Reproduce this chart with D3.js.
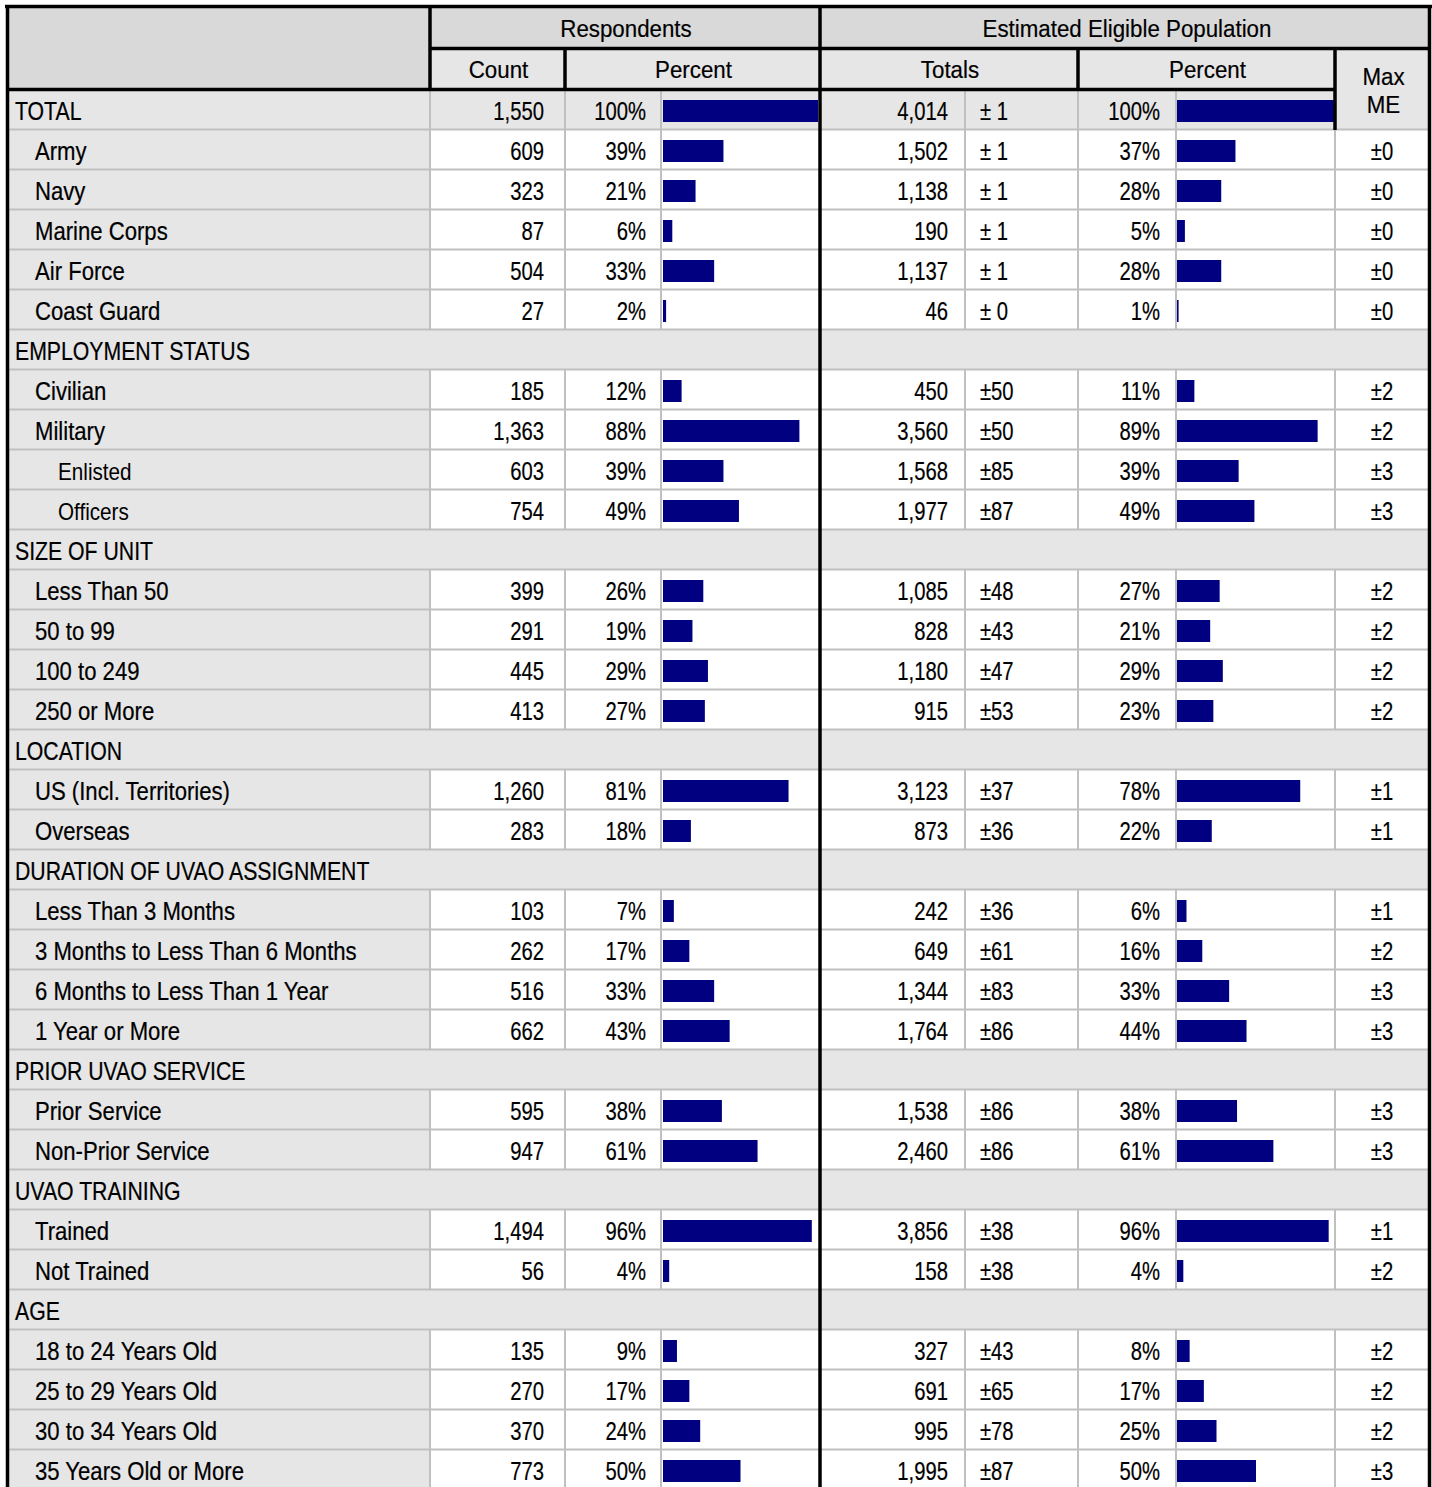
<!DOCTYPE html>
<html><head><meta charset="utf-8">
<script src="https://cdn.jsdelivr.net/npm/d3@7"></script>
<style>
body{margin:0;background:#fff}
svg text{font-family:"Liberation Sans",Arial,sans-serif;fill:#000}
</style>
</head><body><svg id="chart" width="1432" height="1487"></svg>
<script>
// ---- data ----
const labels = ["TOTAL","Army","Navy","Marine Corps","Air Force","Coast Guard","EMPLOYMENT STATUS","Civilian","Military","Enlisted","Officers","SIZE OF UNIT","Less Than 50","50 to 99","100 to 249","250 or More","LOCATION","US (Incl. Territories)","Overseas","DURATION OF UVAO ASSIGNMENT","Less Than 3 Months","3 Months to Less Than 6 Months","6 Months to Less Than 1 Year","1 Year or More","PRIOR UVAO SERVICE","Prior Service","Non-Prior Service","UVAO TRAINING","Trained","Not Trained","AGE","18 to 24 Years Old","25 to 29 Years Old","30 to 34 Years Old","35 Years Old or More"];
const levels = [0,1,1,1,1,1,0,1,1,2,2,0,1,1,1,1,0,1,1,0,1,1,1,1,0,1,1,0,1,1,0,1,1,1,1];
const counts = [1550,609,323,87,504,27,null,185,1363,603,754,null,399,291,445,413,null,1260,283,null,103,262,516,662,null,595,947,null,1494,56,null,135,270,370,773];
const respPct = [100,39,21,6,33,2,null,12,88,39,49,null,26,19,29,27,null,81,18,null,7,17,33,43,null,38,61,null,96,4,null,9,17,24,50];
const estTotals = [4014,1502,1138,190,1137,46,null,450,3560,1568,1977,null,1085,828,1180,915,null,3123,873,null,242,649,1344,1764,null,1538,2460,null,3856,158,null,327,691,995,1995];
const estTotalME = [1,1,1,1,1,0,null,50,50,85,87,null,48,43,47,53,null,37,36,null,36,61,83,86,null,86,86,null,38,38,null,43,65,78,87];
const estPct = [100,37,28,5,28,1,null,11,89,39,49,null,27,21,29,23,null,78,22,null,6,16,33,44,null,38,61,null,96,4,null,8,17,25,50];
const maxME = [null,0,0,0,0,0,null,2,2,3,3,null,2,2,2,2,null,1,1,null,1,2,3,3,null,3,3,null,1,2,null,2,2,2,3];
const headerTop = ["Respondents","Estimated Eligible Population"];
const headerSub = ["Count","Percent","Totals","Percent"];
const maxMeHeader = ["Max","ME"];

// ---- layout ----
const X = {left:7, lab:430, cnt:565, bar1:661, mid:820, tot:965, totme:1078, bar2:1176, me:1335, right:1430};
const bodyTop = 90, rowH = 40;
const GRAY = "#c0c0c0", BG = "#e6e6e6", HBG = "#d9d9d9", NAVY = "#000080";

const rows = labels.map((l,i)=>({label:l, level:levels[i], section: counts[i]===null,
  count:counts[i], rp:respPct[i], tot:estTotals[i], tme:estTotalME[i], ep:estPct[i], me:maxME[i], i}));

const svg = d3.select("#chart");
const yRow = d3.scaleBand().domain(d3.range(rows.length)).range([bodyTop, bodyTop + rowH*rows.length]);
const xR = d3.scaleLinear().domain([0,100]).range([X.bar1+2, X.mid-2]);
const xE = d3.scaleLinear().domain([0,100]).range([X.bar2+1, X.me]);
const fmt = d3.format(",");

// narrow-text helper: text placed via transform with horizontal compression
function ntext(sel, xf, yf, k, size, anchor){
  return sel.attr("transform", (d,i)=>`translate(${xf(d,i)},${yf(d,i)}) scale(${typeof k==="function"?k(d):k},1)`)
    .attr("font-size", size).attr("text-anchor", anchor||"start");
}

// header backgrounds
svg.append("rect").attr("x",X.left).attr("y",6).attr("width",X.lab-X.left).attr("height",bodyTop-6).attr("fill",HBG);
svg.append("rect").attr("x",X.lab).attr("y",6).attr("width",X.right-X.lab).attr("height",42).attr("fill",HBG);
svg.append("rect").attr("x",X.lab).attr("y",48).attr("width",X.me-X.lab).attr("height",42).attr("fill",BG);
svg.append("rect").attr("x",X.me).attr("y",48).attr("width",X.right-X.me).attr("height",82).attr("fill",BG);

// row backgrounds
const g = svg.append("g");
rows.forEach(r=>{
  const y = yRow(r.i);
  g.append("rect").attr("x",X.left).attr("y",y).attr("height",rowH)
    .attr("width",(r.section? X.right : (r.i===0? X.me : X.lab)) - X.left).attr("fill",BG);
});

// gray grid lines
rows.forEach(r=>{
  const y = yRow(r.i);
  g.append("line").attr("x1",X.left).attr("x2",X.right).attr("y1",y+rowH-0.5).attr("y2",y+rowH-0.5)
    .attr("stroke",GRAY).attr("stroke-width",2);
  if(!r.section){
    const xs = [X.lab, X.cnt, X.bar1, X.tot, X.totme, X.bar2].concat(r.i===0?[]:[X.me]);
    xs.forEach(x=>g.append("line").attr("x1",x).attr("x2",x).attr("y1",y).attr("y2",y+rowH)
      .attr("stroke",GRAY).attr("stroke-width",2));
  }
});

// bars
const data = rows.filter(r=>!r.section);
g.selectAll("rect.rb").data(data).join("rect").attr("class","rb")
  .attr("x",xR(0)).attr("y",d=>yRow(d.i)+10).attr("height",22)
  .attr("width",d=>xR(d.rp)-xR(0)).attr("fill",NAVY);
g.selectAll("rect.eb").data(data).join("rect").attr("class","eb")
  .attr("x",xE(0)).attr("y",d=>yRow(d.i)+10).attr("height",22)
  .attr("width",d=>xE(d.ep)-xE(0)).attr("fill",NAVY);

// texts
const indent = [15,35,58];
const base = d=>yRow(d.i)+30;
ntext(g.selectAll("text.lab").data(rows).join("text").attr("class","lab"),
  d=>indent[d.level], base,
  d=>d.level===2?0.88:(d.section||d.i===0?0.85:0.885),
  d=>d.level===2?23.5:25)
  .style("stroke",d=>d.level===2?"none":"#000").style("stroke-width",0.22)
  .text(d=>d.label);
const cellText = (cls, x, anchor, f) =>
  ntext(g.selectAll("text."+cls).data(data).join("text").attr("class",cls),
    ()=>x, base, 0.81, 25, anchor)
    .style("stroke","#000").style("stroke-width",0.2).text(f);
cellText("c1",544,"end",d=>fmt(d.count));
cellText("c2",646,"end",d=>d.rp+"%");
cellText("c3",948,"end",d=>fmt(d.tot));
cellText("c4",980,"start",d=>(d.tme<10?"± ":"±")+d.tme);
cellText("c5",1160,"end",d=>d.ep+"%");
ntext(g.selectAll("text.c6").data(data.filter(d=>d.me!==null)).join("text").attr("class","c6"),
  ()=>1382, base, 0.81, 25, "middle")
  .style("stroke","#000").style("stroke-width",0.2).text(d=>"±"+d.me);

// header texts
const hy1 = 37, hy2 = 78;
const subX = [(X.lab+X.cnt)/2,(X.cnt+X.mid)/2,(X.mid+X.totme)/2,(X.totme+X.me)/2];
const hdr = [
  {t:headerTop[0], x:(X.lab+X.mid)/2+1, y:hy1},
  {t:headerTop[1], x:(X.mid+X.right)/2+2, y:hy1},
  ...headerSub.map((t,k)=>({t, x:subX[k]+1, y:hy2})),
  ...maxMeHeader.map((t,k)=>({t, x:(X.me+X.right)/2+1, y:85+k*28}))
];
ntext(svg.append("g").selectAll("text").data(hdr).join("text"), d=>d.x, d=>d.y, 0.93, 24, "middle")
  .style("stroke","#000").style("stroke-width",0.2).text(d=>d.t);

// thick black lines
const thick = [
  [5,6.5,1432,6.5],[7.5,5,7.5,1487],[1429.5,5,1429.5,1487],
  [X.lab,48.5,X.right,48.5],[6,89.5,X.me,89.5],
  [X.lab,5,X.lab,91],[X.mid,5,X.mid,1487],
  [X.cnt,48,X.cnt,91],[X.totme,48,X.totme,91],[X.me,48,X.me,130]
];
svg.append("g").selectAll("line").data(thick).join("line")
  .attr("x1",d=>d[0]).attr("y1",d=>d[1]).attr("x2",d=>d[2]).attr("y2",d=>d[3])
  .attr("stroke","#000").attr("stroke-width",3.5);
</script>
</body></html>
